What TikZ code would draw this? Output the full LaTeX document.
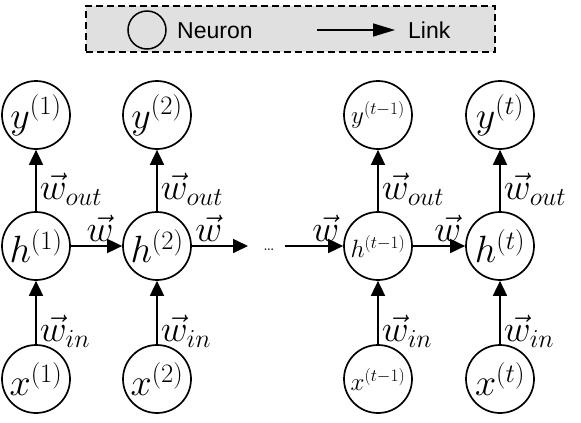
\RequirePackage{fix-cm}
\documentclass[tikz,border=0pt]{standalone}
\usepackage{fontspec}
\newfontfamily\legendfont{Liberation Sans}
\usetikzlibrary{arrows.meta}
\definecolor{legendgray}{RGB}{224,224,224}
\tikzset{
  neuron/.style={circle, draw, line width=1.7pt, minimum size=68pt, inner sep=0pt, font=\fontsize{38}{42}\selectfont},
  smallneuron/.style={neuron, font=\fontsize{25}{28}\selectfont},
  link/.style={line width=1.7pt, -{Triangle[length=15pt,width=14pt]}},
  wlabel/.style={font=\fontsize{37}{42}\selectfont, inner sep=0pt},
  legendbox/.style={draw, dashed, dash pattern=on 7pt off 4pt, line width=1.5pt, fill=legendgray},
  legendtext/.style={font=\legendfont\fontsize{23}{26}\selectfont, anchor=base west, inner sep=0pt},
}
\begin{document}
\begin{tikzpicture}[x=1pt,y=-1pt]
\useasboundingbox (0,0) rectangle (581,423);
% legend
\node[legendbox, minimum width=409pt, minimum height=46pt, inner sep=0pt] (legend) at (290.5,29) {};
\node[circle, draw, line width=1.5pt, minimum size=38pt, inner sep=0pt] (legcirc) at (147,30) {};
\node[legendtext] (legneuron) at (177,38) {Neuron};
\coordinate (legA) at (317,30);
\coordinate (legB) at (395,30);
\draw[line width=1.5pt, -{Triangle[length=22pt,width=13pt]}] (legA) -- (legB);
\node[legendtext] (leglink) at (408,38) {Link};
% neurons
\node[neuron] (y1) at (36,115) {$y^{(1)}$};
\node[neuron] (y2) at (157,115) {$y^{(2)}$};
\node[smallneuron] (y3) at (378,115) {$y^{(t-1)}$};
\node[neuron] (y4) at (500,115) {$y^{(t)}$};
\node[neuron] (h1) at (36,246) {$h^{(1)}$};
\node[neuron] (h2) at (157,246) {$h^{(2)}$};
\node[smallneuron] (h3) at (378,246) {$h^{(t-1)}$};
\node[neuron] (h4) at (500,246) {$h^{(t)}$};
\node[neuron] (x1) at (36,379) {$x^{(1)}$};
\node[neuron] (x2) at (157,379) {$x^{(2)}$};
\node[smallneuron] (x3) at (378,379) {$x^{(t-1)}$};
\node[neuron] (x4) at (500,379) {$x^{(t)}$};
% dots
\node[font=\fontsize{20}{22}\selectfont, inner sep=0pt] (dots) at (269,250) {\ldots};
\coordinate (d1) at (248,246);
\coordinate (d2) at (285,246);
% vertical links
\foreach \i in {1,2,3,4}{
  \draw[link] (x\i) -- (h\i) node[wlabel, pos=0.2, anchor=west, xshift=3pt] {$\vec{w}_{in}$};
  \draw[link] (h\i) -- (y\i) node[wlabel, pos=0.36, anchor=west, xshift=3pt] {$\vec{w}_{out}$};
}
% horizontal links
\draw[link] (h1) -- (h2) node[wlabel, pos=0.57, above, yshift=4pt] {$\vec{w}$};
\draw[link] (h2) -- (d1) node[wlabel, pos=0.3, above, yshift=4pt] {$\vec{w}$};
\draw[link] (d2) -- (h3) node[wlabel, pos=0.7, above, yshift=4pt] {$\vec{w}$};
\draw[link] (h3) -- (h4) node[wlabel, pos=0.67, above, yshift=4pt] {$\vec{w}$};
\end{tikzpicture}
\end{document}
